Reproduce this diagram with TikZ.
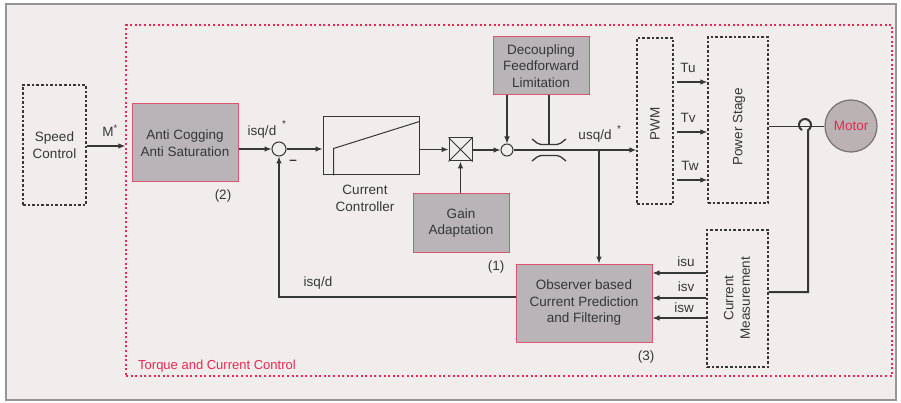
\documentclass[tikz,border=0pt]{standalone}
\usepackage{fontspec}
\setmainfont{Liberation Sans}
\usetikzlibrary{arrows.meta}
\definecolor{ink}{RGB}{55,55,55}
\definecolor{bgpaper}{RGB}{240,237,236}
\definecolor{frameg}{RGB}{150,148,148}
\definecolor{boxgray}{RGB}{184,180,183}
\definecolor{boxred}{RGB}{222,84,112}
\definecolor{tccred}{RGB}{232,40,82}
\definecolor{motorfill}{RGB}{186,178,179}
\definecolor{motorline}{RGB}{120,114,114}
\begin{document}
\begin{tikzpicture}[x=1pt,y=-1pt,
  every node/.style={font=\fontsize{13.5}{16.5}\selectfont, text=ink},
  graybox/.style={draw=boxred, fill=boxgray, line width=1pt, inner sep=0pt, align=center},
  dbox/.style={draw=ink, dash pattern=on 2.6pt off 2pt, line width=1.3pt, inner sep=0pt, align=center},
  plain/.style={draw=ink, line width=1pt, inner sep=0pt},
  conn/.style={draw=ink, line width=1.1pt},
  arr/.style={conn, -{Latex[length=7pt,width=5.5pt]}},
  lbl/.style={inner sep=0pt, align=center}
]
\useasboundingbox (0,0) rectangle (901,403);
% paper
\draw[frameg, line width=1.5pt, fill=bgpaper] (6,4) rectangle (896,400);
% torque and current control frame
\node[draw=tccred, dash pattern=on 2pt off 2.6pt, line width=1.3pt, minimum width=766pt, minimum height=351pt, inner sep=0pt] (tcc) at (509,200.5) {};
\node[lbl, anchor=base west, text=tccred, font=\fontsize{13}{16}\selectfont] (tcclbl) at (138,369) {Torque and Current Control};

% blocks
\node[dbox, minimum width=63pt, minimum height=120pt] (speed) at (54.5,145) {Speed\\Control};
\node[graybox, minimum width=106pt, minimum height=78pt] (anti) at (185,143) {Anti Cogging\\Anti Saturation};
\node[plain, circle, minimum size=14pt] (sum) at (279,149) {};
\node[plain, minimum width=96pt, minimum height=58pt] (ctrl) at (371,146) {};
\node[lbl] (ctrllbl) at (365,198.5) {Current\\Controller};
\node[plain, minimum width=23pt, minimum height=23pt] (mult) at (460.5,149.5) {};
\node[graybox, minimum width=96pt, minimum height=58pt] (gain) at (461,223) {Gain\\Adaptation};
\node[graybox, minimum width=96pt, minimum height=58pt] (dec) at (541,66) {Decoupling\\Feedforward\\Limitation};
\node[plain, circle, minimum size=12pt] (sum2) at (507,150) {};
\coordinate (lim) at (549,150);
\node[dbox, minimum width=36pt, minimum height=166pt] (pwm) at (655,121) {};
\node[lbl, rotate=90] (pwmlbl) at (655,124) {PWM};
\node[dbox, minimum width=60pt, minimum height=166pt] (power) at (738,120) {};
\node[lbl, rotate=90] (powerlbl) at (739,127) {Power Stage};
\node[circle, draw=motorline, fill=motorfill, line width=1.2pt, minimum size=52pt, inner sep=0pt, text=tccred] (motor) at (851,126) {Motor};
\node[graybox, minimum width=136pt, minimum height=78pt] (obs) at (584,303) {Observer based\\Current Prediction\\and Filtering};
\node[dbox, minimum width=61pt, minimum height=137pt] (meas) at (737.5,298.5) {};
\node[lbl, rotate=90] (measlbl) at (737,298) {Current\\Measurement};

% numbers
\node[lbl] (n2) at (223,196) {(2)};
\node[lbl] (n1) at (496,267) {(1)};
\node[lbl] (n3) at (646,357) {(3)};

% controller characteristic
\draw[ink, line width=1pt] ([xshift=11pt]ctrl.south west) -- ([xshift=11pt,yshift=27pt]ctrl.south west) -- ([yshift=-5pt]ctrl.north east);
% multiplier cross
\draw[ink, line width=0.9pt] (mult.north west) -- (mult.south east) (mult.north east) -- (mult.south west);

% connectors
\draw[arr] (speed.east |- 0,146) -- (tcc.west |- 0,146);
\node[lbl] (mlbl) at (110,131) {M\textsuperscript{*}};
\draw[arr] (anti.east |- sum) -- (sum.west);
\node[lbl] (isqlbl) at (262,132) {isq/d};
\node[lbl] (isqstar) at (284,124) {\fontsize{10}{10}\selectfont *};
\draw[arr] (sum.east) -- (sum.east -| ctrl.west);
\draw[arr] (ctrl.east |- mult) -- (mult.west);
\draw[arr] (mult.east |- sum2) -- (sum2.west);
\draw[arr] (gain.north -| mult) -- (mult.south);
\draw[arr] (sum2 |- dec.south) -- (sum2.north);
\coordinate (limtop) at (549,144.5);
\draw[conn] (limtop |- dec.south) -- (limtop);
\draw[arr] (sum2.east) -- (sum2.east -| pwm.west);
\node[lbl] (usqlbl) at (595,136) {usq/d};
\node[lbl] (usqstar) at (619,129) {\fontsize{10}{10}\selectfont *};
% limiter symbol
\draw[ink, line width=1.3pt, rounded corners=2pt, shift={(lim)}]
  (-17,-11) -- (-10,-5.5) -- (10,-5.5) -- (17,-11)
  (-17,11) -- (-10,5.5) -- (10,5.5) -- (17,11);
% branch to observer
\coordinate (br) at (599,150);
\draw[arr] (br) -- (br |- obs.north);
% feedback
\coordinate (fb) at (0,297);
\draw[arr] (fb -| obs.west) -| (sum.south);
\node[lbl] (fblbl) at (318,283) {isq/d};
\node[lbl] (minus) at (293,162) {\textbf{–}};

% PWM to power stage
\draw[arr] (677,82) -- (power.west |- 0,82);
\draw[arr] (677,132) -- (power.west |- 0,132);
\draw[arr] (677,180) -- (power.west |- 0,180);
\node[lbl] (tu) at (688,68) {Tu};
\node[lbl] (tv) at (688,118) {Tv};
\node[lbl] (tw) at (690,166) {Tw};

% power stage to motor
\draw[ink, line width=0.9pt] (power.east |- motor) -- (motor.west);
% measurement loop
\draw[ink, line width=2pt] (meas.east |- 0,292) -- (808,292) -- (808,130.2) arc[start angle=-60, end angle=240, radius=6pt];

% currents to observer
\draw[arr] (meas.west |- 0,273) -- (obs.east |- 0,273);
\draw[arr] (meas.west |- 0,298) -- (obs.east |- 0,298);
\draw[arr] (meas.west |- 0,318) -- (obs.east |- 0,318);
\node[lbl] (isu) at (686,262) {isu};
\node[lbl] (isv) at (686,287) {isv};
\node[lbl] (isw) at (684,308) {isw};
\end{tikzpicture}
\end{document}
